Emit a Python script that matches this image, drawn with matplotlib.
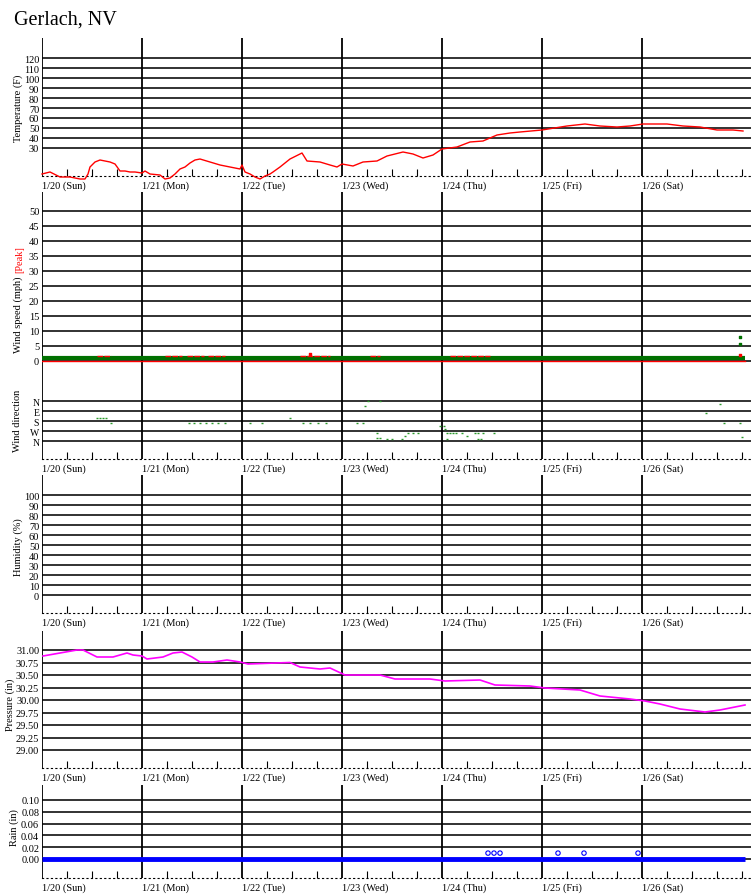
import numpy as np
import matplotlib
matplotlib.use("Agg")
import matplotlib.pyplot as plt

plt.rcParams['font.family'] = ['Liberation Serif', 'DejaVu Serif']

# Datos (días desde 1/20 00:00)
dias_etiquetas = ["1/20 (Sun)", "1/21 (Mon)", "1/22 (Tue)", "1/23 (Wed)",
                  "1/24 (Thu)", "1/25 (Fri)", "1/26 (Sat)"]

temp_dias = [0.00, 0.08, 0.18, 0.28, 0.38, 0.43, 0.46, 0.48, 0.53, 0.58, 0.63, 0.68,
             0.73, 0.78, 0.83, 0.88, 0.93, 1.00, 1.03, 1.08, 1.18, 1.23, 1.28, 1.33,
             1.38, 1.43, 1.48, 1.53, 1.58, 1.68, 1.78, 1.88, 1.98, 2.00, 2.03, 2.08,
             2.13, 2.18, 2.23, 2.28, 2.31, 2.38, 2.48, 2.60, 2.65, 2.78, 2.88, 2.95,
             3.00, 3.11, 3.21, 3.35, 3.45, 3.61, 3.71, 3.81, 3.91, 4.00, 4.15, 4.28,
             4.41, 4.55, 4.68, 4.78, 5.00, 5.25, 5.43, 5.58, 5.75, 5.88, 6.01, 6.25,
             6.41, 6.58, 6.75, 6.91, 7.01]
temp_f = [4, 6, 1, 1, -1, -1, 4, 11, 16, 18, 17, 16,
          14, 7, 7, 6, 6, 5, 7, 4, 3, -1, 0, 4,
          9, 11, 15, 18, 19, 16, 13, 11, 9, 13, 6, 4,
          1, -1, 2, 4, 6, 11, 19, 25, 17, 16, 13, 11,
          14, 12, 16, 17, 22, 26, 24, 20, 23, 29, 31, 36,
          37, 43, 45, 46, 48, 52, 54, 52, 51, 52, 54, 54,
          52, 51, 48, 48, 47]

viento_dias = [0.0, 7.03]
viento_medio = [1.0, 1.0]
viento_pico_base = [0.0, 0.0]
# tramos del pico (inicio, fin) en ~1.5 mph
pico_tramos = [(0.55, 0.69), (1.23, 1.40), (1.45, 1.62), (1.66, 1.83),
               (2.58, 2.88), (3.28, 3.38), (4.08, 4.48)]
pico_dias = [2.68, 6.98]
pico_mph = [2.3, 2.0]
viento_extra_dias = [6.98, 6.98]
viento_extra_mph = [8.0, 5.5]

dir_dias = [0.55, 0.58, 0.61, 0.64, 0.69, 1.47, 1.52, 1.58, 1.64, 1.70, 1.76, 1.83,
            2.08, 2.20, 2.48, 2.61, 2.68, 2.76, 2.84, 3.15, 3.21, 3.23, 3.26, 3.38,
            3.35, 3.35, 3.38, 3.45, 3.50, 3.60, 3.63, 3.66, 3.71, 3.76, 3.98, 4.02,
            4.03, 4.05, 4.08, 4.11, 4.14, 4.20, 4.33, 4.36, 4.41, 4.25, 4.05, 4.36,
            4.39, 4.52, 6.64, 6.78, 6.82, 6.98, 7.00]
dir_grados = [153, 153, 153, 153, 198, 198, 198, 198, 198, 198, 198, 198,
              198, 198, 153, 198, 198, 198, 198, 198, 198, 45, 0, 0,
              288, 333, 333, 342, 342, 342, 315, 288, 288, 288, 225, 225,
              252, 288, 288, 288, 288, 288, 288, 288, 288, 315, 342, 342,
              342, 288, 108, 27, 198, 198, 324]

hum_dias = []
hum_pct = []

pres_dias = [0.01, 0.18, 0.35, 0.41, 0.55, 0.71, 0.85, 0.91, 1.00, 1.05, 1.21, 1.31,
             1.40, 1.50, 1.58, 1.71, 1.85, 1.98, 2.06, 2.48, 2.58, 2.78, 2.88, 3.03,
             3.38, 3.53, 3.88, 4.03, 4.38, 4.53, 4.88, 5.03, 5.38, 5.58, 5.88, 6.03,
             6.18, 6.38, 6.63, 6.78, 7.03]
pres_in = [30.88, 30.94, 31.00, 31.00, 30.86, 30.86, 30.94, 30.90, 30.88, 30.82, 30.86, 30.94,
           30.96, 30.86, 30.76, 30.76, 30.80, 30.76, 30.72, 30.75, 30.66, 30.62, 30.64, 30.50,
           30.50, 30.42, 30.42, 30.38, 30.40, 30.30, 30.28, 30.24, 30.20, 30.08, 30.02, 29.98,
           29.92, 29.82, 29.76, 29.80, 29.90]

lluvia_dias = [0.0, 7.03]
lluvia_in = [0.0, 0.0]
lluvia_pts_dias = [4.46, 4.52, 4.58, 5.16, 5.42, 5.96]
lluvia_pts_in = [0.01, 0.01, 0.01, 0.01, 0.01, 0.01]

W, H = 751, 895
fig = plt.figure(figsize=(W / 100, H / 100), dpi=100)
XMAX = (W - 42) / 100


def crear_panel(arriba, abajo, ymin, ymax, yticks, ylabels, etiquetas_x=True, invertir=False):
    ax = fig.add_axes([42 / W, 1 - abajo / H, (W - 42) / W, (abajo - arriba) / H])
    ax.set_xlim(0, XMAX)
    if invertir:
        ax.set_ylim(ymax, ymin)
    else:
        ax.set_ylim(ymin, ymax)
    for s in ['top', 'right', 'left']:
        ax.spines[s].set_visible(False)
    ax.set_facecolor('none')
    ax.set_yticks(yticks)
    ax.set_yticklabels(ylabels, fontsize=7.5)
    ax.tick_params(axis='y', length=0, pad=2)
    for yv in yticks:
        ax.axhline(yv, color='#222222', lw=1.3, zorder=1)
    for d in range(7):
        ax.axvline(d, color='black', lw=1.3, zorder=1)
    if etiquetas_x:
        ax.spines['bottom'].set_linestyle((0, (1, 3)))
        ax.spines['bottom'].set_linewidth(0.8)
        ax.set_xticks(range(7))
        ax.set_xticklabels(dias_etiquetas, fontsize=7.5, ha='left')
        ax.set_xticks(np.arange(0, XMAX, 0.25), minor=True)
        ax.tick_params(axis='x', which='major', length=0, pad=3)
        ax.tick_params(axis='x', which='minor', direction='in', length=5, width=0.8)
    else:
        ax.spines['bottom'].set_visible(False)
        ax.set_xticks([])
    return ax


def etiqueta(texto, x, y, color='black'):
    fig.text(x / W, 1 - y / H, texto, rotation=90, ha='center', va='center',
             fontsize=7.5, color=color)


fig.text(14 / W, 1 - 20 / H, "Gerlach, NV", fontsize=14.5, va='center', ha='left')

# Temperatura
ax_t = crear_panel(39, 177, 2, 140, list(range(30, 130, 10)),
                   [str(v) for v in range(30, 130, 10)])
ax_t.plot(temp_dias, temp_f, color='red', lw=1, zorder=3, clip_on=False)
etiqueta("Temperature (F)", 18, 108)

# Viento
ax_v = crear_panel(193, 380, -6, 56.33, list(range(0, 55, 5)),
                   [str(v) for v in range(0, 55, 5)], etiquetas_x=False)
ax_v.plot(viento_dias, viento_pico_base, color='red', lw=1.0, zorder=3)
ax_v.plot(viento_dias, viento_medio, color='#007000', lw=3, zorder=3, solid_capstyle='butt')
for a, b in pico_tramos:
    ax_v.plot([a, b], [1.6, 1.6], color='red', lw=1.0, zorder=5, ls=(0, (4, 1)))
ax_v.scatter(pico_dias, pico_mph, color='red', s=1.5, marker='s', zorder=5)
ax_v.scatter(viento_extra_dias, viento_extra_mph, color='#007000', s=1.5, marker='s', zorder=4)
etiqueta("Wind speed (mph)", 18, 315)
etiqueta("[Peak]", 20, 260, color='red')

ax_d = crear_panel(380, 460, -198, 522, [0, 90, 180, 270, 360],
                   ["N", "E", "S", "W", "N"], invertir=True)
ax_d.tick_params(axis='y', labelsize=7)
ax_d.scatter(dir_dias, dir_grados, color='#2a9a2a', s=3, marker='_', lw=1, zorder=3)
etiqueta("Wind direction", 18, 421)

# Humedad
ax_h = crear_panel(476, 614, -18, 120, list(range(0, 110, 10)),
                   [str(v) for v in range(0, 110, 10)])
ax_h.plot(hum_dias, hum_pct, color='green', lw=1)
etiqueta("Humidity (%)", 18, 547)

# Presión
pt = np.arange(29.0, 31.01, 0.25)
ax_p = crear_panel(632, 769, 28.64, 31.38, pt, ["%.2f" % v for v in pt])
ax_p.plot(pres_dias, pres_in, color='#ff00ff', lw=1.2, zorder=3)
etiqueta("Pressure (in)", 10, 705)

# Lluvia
rt = np.arange(0, 0.101, 0.02)
ax_r = crear_panel(786, 879, -0.0322, 0.1254, rt, ["%.2f" % v for v in rt])
ax_r.plot(lluvia_dias, lluvia_in, color='#0000ff', lw=3.5, zorder=3, solid_capstyle='butt')
ax_r.scatter(lluvia_pts_dias, lluvia_pts_in, facecolors='none', edgecolors='#0000ff',
             s=10, lw=0.8, zorder=3)
etiqueta("Rain (in)", 14, 828)

fig.savefig("out.png", dpi=100)
